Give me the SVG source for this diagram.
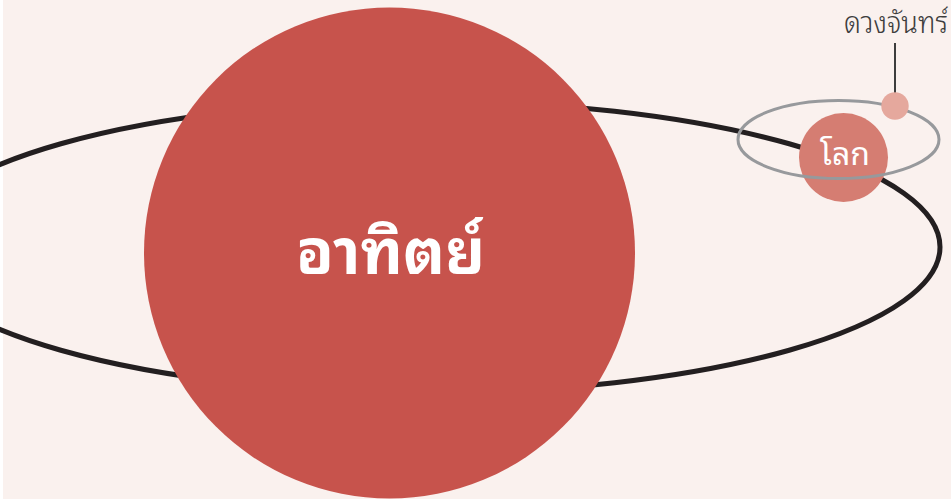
<svg xmlns="http://www.w3.org/2000/svg" width="951" height="500" viewBox="0 0 951 500">
<style>
.thai{font-family:"Noto Sans Thai Looped","Noto Sans Thai","Noto Sans",sans-serif}
.lbl{fill:#ffffff;text-anchor:middle}
</style>
<rect x="0" y="0" width="951" height="500" fill="#ffffff"/>
<rect x="3" y="0" width="948" height="499" fill="#faf1ee"/>
<g id="connectors">
<ellipse id="earth-orbit" cx="425" cy="247" rx="515" ry="146" fill="none" stroke="#231f20" stroke-width="5"/>
</g>
<g id="sun">
<circle cx="389.5" cy="253" r="245.5" fill="#c7534c"/>
<text class="thai lbl" x="390.5" y="274" font-size="62" font-weight="bold">อาทิตย์</text>
</g>
<g id="earth">
<circle cx="843.5" cy="157.5" r="44.5" fill="#d57d72"/>
<text class="thai lbl" x="845" y="165" font-size="32">โลก</text>
</g>
<g id="moon-orbit">
<ellipse cx="838.5" cy="139.5" rx="100.5" ry="39" fill="none" stroke="#97999c" stroke-width="3"/>
</g>
<g id="moon">
<line x1="895" y1="43" x2="895" y2="100" stroke="#3d3d3d" stroke-width="2"/>
<circle cx="895" cy="106" r="13.7" fill="#e5a89d"/>
<text class="thai" x="844" y="33" font-size="30" font-weight="300" fill="#3d3d3d" textLength="104" lengthAdjust="spacingAndGlyphs">ดวงจันทร์</text>
</g>
</svg>
